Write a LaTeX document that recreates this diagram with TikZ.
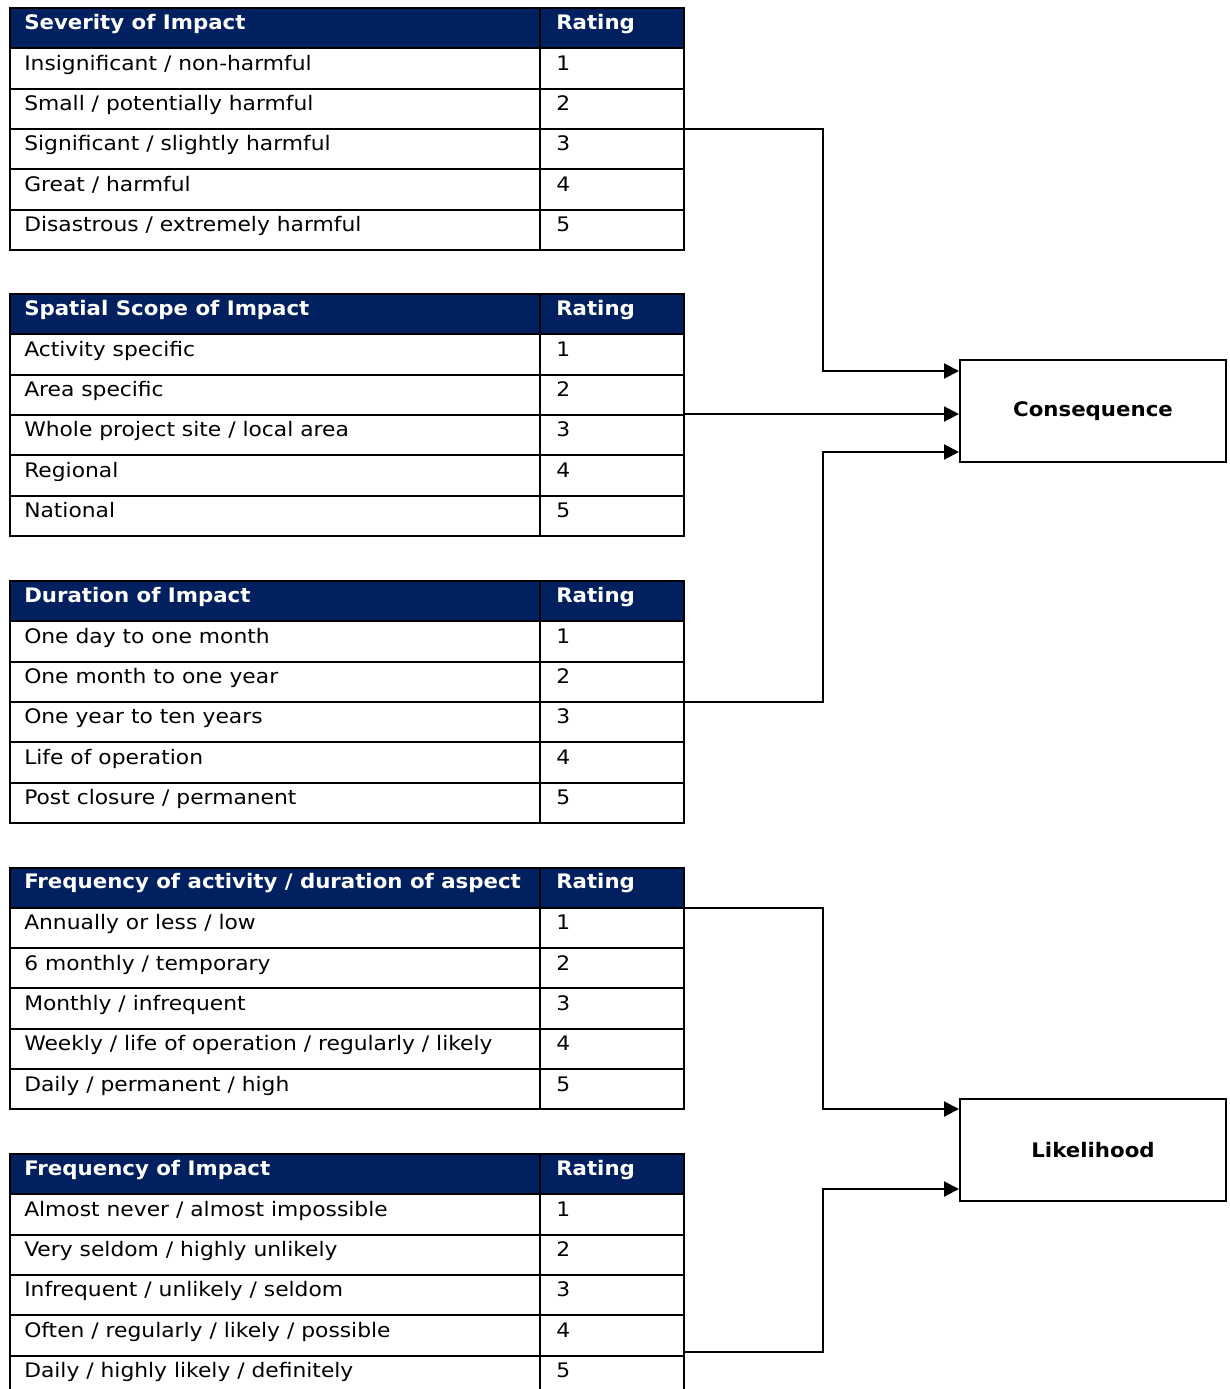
\documentclass[tikz,border=0pt]{standalone}
\usepackage{fontspec}
\setmainfont{DejaVu Sans}
\newfontfamily\bodyf{DejaVu Sans}[FakeStretch=1.09]
\newfontfamily\headf{DejaVu Sans}[FakeStretch=1.065]
\usetikzlibrary{arrows.meta}
\definecolor{hdnavy}{HTML}{002060}
\newcommand{\fs}{\fontsize{15pt}{18pt}\selectfont}
\tikzset{
  grid/.style={line width=1.5pt, draw=black},
  hd/.style={anchor=base west, inner sep=0pt, text=white, font=\headf\fs\bfseries},
  bd/.style={anchor=base west, inner sep=0pt, text=black, font=\bodyf\fs},
  resbox/.style={draw=black, line width=1.5pt, minimum width=199.5pt, minimum height=76.5pt, inner sep=0pt, font=\headf\fs\bfseries, fill=white},
  conn/.style={line width=1.5pt, -{Triangle[length=11.25pt,width=11.25pt]}},
}
% name, top, header, rows 1..5
\newcommand{\rtable}[8]{%
  \pgfmathsetmacro{\tp}{#2}
  \fill[hdnavy] (10,\tp) rectangle (684,\tp+40.3);
  \foreach \k in {1,...,5} \draw[grid] (10,\tp+40.3*\k) -- (684,\tp+40.3*\k);
  \draw[grid] (540,\tp) -- (540,\tp+241.8);
  \draw[grid] (10,\tp) rectangle (684,\tp+241.8);
  \node[hd] (#1h) at (24,\tp+21) {#3};
  \node[hd] (#1hr) at (556,\tp+21) {Rating};
  \node[bd] (#1r1) at (24,\tp+40.3*1+22) {#4};
  \node[bd] (#1r2) at (24,\tp+40.3*2+22) {#5};
  \node[bd] (#1r3) at (24,\tp+40.3*3+22) {#6};
  \node[bd] (#1r4) at (24,\tp+40.3*4+22) {#7};
  \node[bd] (#1r5) at (24,\tp+40.3*5+22) {#8};
  \node[bd] (#1n1) at (556,\tp+40.3*1+22) {1};
  \node[bd] (#1n2) at (556,\tp+40.3*2+22) {2};
  \node[bd] (#1n3) at (556,\tp+40.3*3+22) {3};
  \node[bd] (#1n4) at (556,\tp+40.3*4+22) {4};
  \node[bd] (#1n5) at (556,\tp+40.3*5+22) {5};
}
\begin{document}
\begin{tikzpicture}[x=0.75pt, y=-0.75pt]
\useasboundingbox (0,0) rectangle (1230,1389);
\fill[white] (0,0) rectangle (1230,1389);
\clip (0,0) rectangle (1230,1389);

\rtable{ta}{8}{Severity of Impact}{Insignificant / non-harmful}{Small / potentially harmful}{Significant / slightly harmful}{Great / harmful}{Disastrous / extremely harmful}
\rtable{tb}{294}{Spatial Scope of Impact}{Activity specific}{Area specific}{Whole project site / local area}{Regional}{National}
\rtable{tc}{581}{Duration of Impact}{One day to one month}{One month to one year}{One year to ten years}{Life of operation}{Post closure / permanent}
\rtable{td}{867.5}{Frequency of activity / duration of aspect}{Annually or less / low}{6 monthly / temporary}{Monthly / infrequent}{Weekly / life of operation / regularly / likely}{Daily / permanent / high}
\rtable{te}{1154}{Frequency of Impact}{Almost never / almost impossible}{Very seldom / highly unlikely}{Infrequent / unlikely / seldom}{Often / regularly / likely / possible}{Daily / highly likely / definitely}

\node[resbox] (cons) at (1093,411) {Consequence};
\node[resbox] (like) at (1093,1150) {Likelihood};

\coordinate (vx) at (823,0);
\coordinate (ta-out) at (684,128.9);
\coordinate (tb-out) at (684,414);
\coordinate (tc-out) at (684,701.9);
\coordinate (td-out) at (684,908.3);
\coordinate (te-out) at (684,1351.5);

\draw[conn] (ta-out) -- (ta-out -| vx) |- ([yshift=-9pt]cons.north west);
\draw[conn] (tb-out) -- (cons.west |- tb-out);
\draw[conn] (tc-out) -- (tc-out -| vx) |- ([yshift=8.25pt]cons.south west);
\draw[conn] (td-out) -- (td-out -| vx) |- ([yshift=-8.25pt]like.north west);
\draw[conn] (te-out) -- (te-out -| vx) |- ([yshift=9.75pt]like.south west);
\end{tikzpicture}
\end{document}
